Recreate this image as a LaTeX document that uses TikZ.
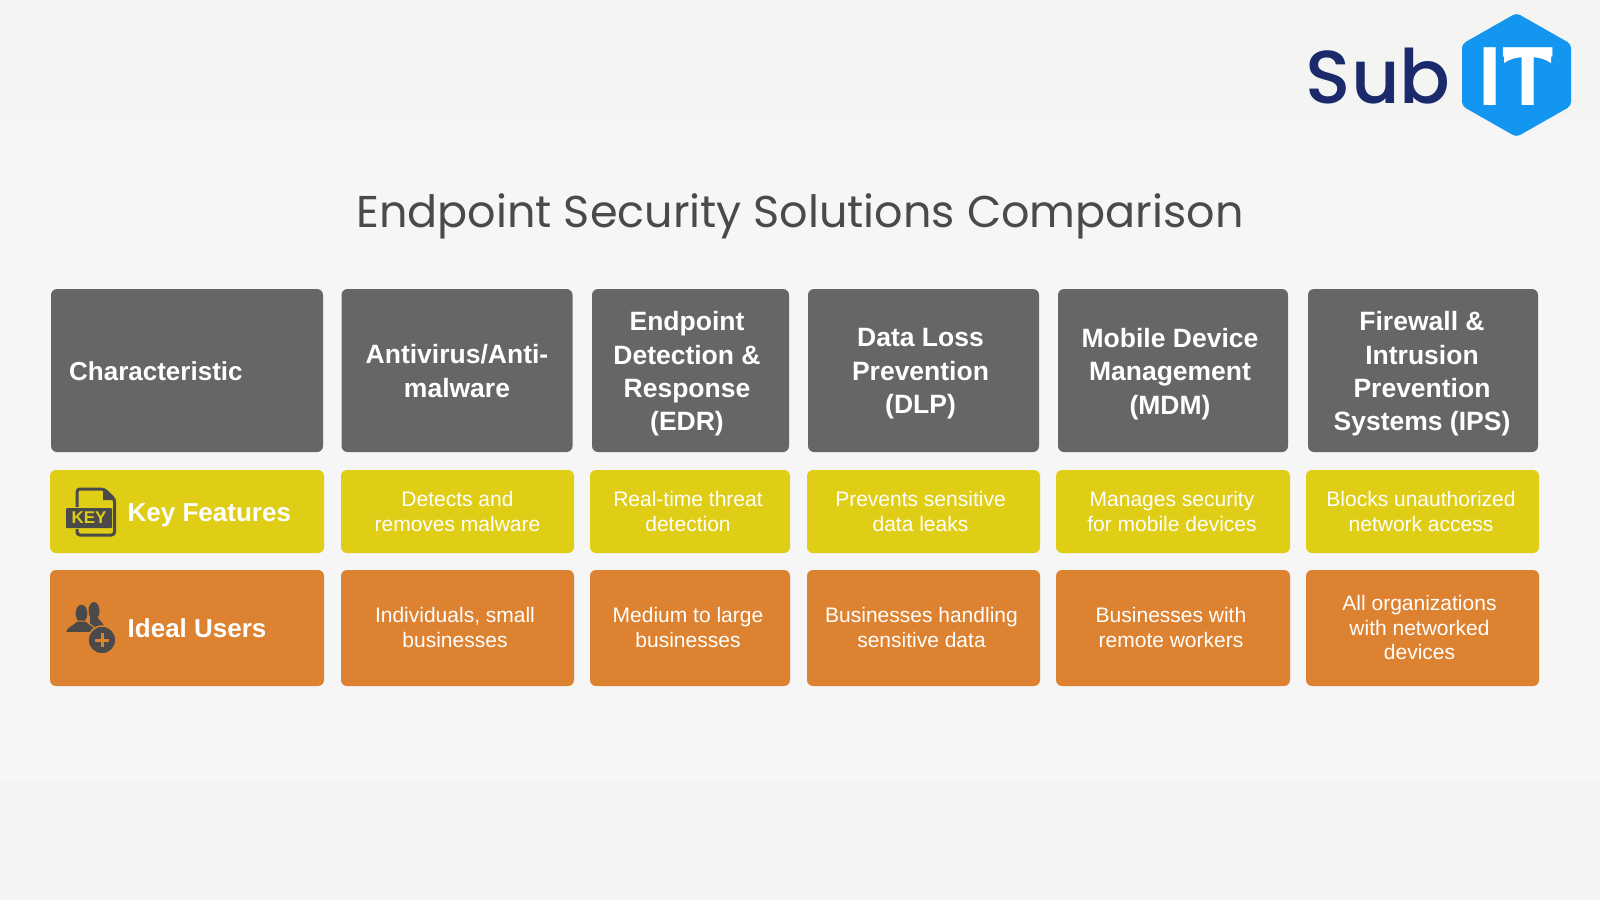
\documentclass[tikz,border=0pt]{standalone}
\usepackage{fontspec}
\setmainfont{Liberation Sans}
\newfontfamily\titlefont{Poppins}
\newfontfamily\logofont{Poppins Medium}
\definecolor{pagebg}{HTML}{F6F6F6}
\definecolor{bandbg}{HTML}{F4F4F2}
\definecolor{headgray}{HTML}{666666}
\definecolor{keyyellow}{HTML}{E0CD16}
\definecolor{userorange}{HTML}{DD8230}
\definecolor{icongray}{HTML}{4A4A4A}
\definecolor{logoblue}{HTML}{1296F0}
\definecolor{logonavy}{HTML}{1B2A6B}
\tikzset{
    cell/.style={rounded corners=6pt, inner sep=0pt},
    celltext/.style={align=center, text=white, inner sep=0pt},
    headtext/.style={celltext, font=\bfseries\fontsize{26.5}{33.4}\selectfont},
    smalltext/.style={celltext, font=\fontsize{21}{24.6}\selectfont},
    rowlabel/.style={anchor=west, text=white, inner sep=0pt, font=\bfseries\fontsize{26}{30}\selectfont},
    icon/.style={fill=icongray, draw=none}
}
\begin{document}
\begin{tikzpicture}[x=1pt,y=-1pt]
    \useasboundingbox (0,0) rectangle (1600,900);
    \fill[bandbg] (0,0) rectangle (1600,900);
    \fill[pagebg] (0,118) rectangle (1600,780);
    % logo
    \node[anchor=east, inner sep=0pt, text=logonavy, font=\logofont\fontsize{75}{75}\selectfont] (sub) at (1451,76) {Sub};
    \fill[logoblue, rounded corners=4pt] (1516.5,13) -- (1571,44) -- (1571,106) -- (1516.5,137) -- (1462,106) -- (1462,44) -- cycle;
    \node[text=white, inner sep=0pt, font=\bfseries\fontsize{84}{84}\selectfont] (logoit) at (1516,76.5) {IT};
    \fill[white] (1504,52) -- (1504,63) .. controls (1510,59) and (1516,57) .. (1527.5,57) .. controls (1539,57) and (1545,59) .. (1551,63) -- (1551,52) -- cycle;
    % title
    \node[text=icongray, inner sep=0pt, font=\titlefont\fontsize{44.5}{50}\selectfont] (title) at (800,216) {Endpoint Security Solutions Comparison};
    % header row
    \foreach \x/\w/\tx/\ty/\n/\l in {187/272/187/371/hchar/,457/231/457/371/hav/{Antivirus/Anti-\\malware},690.5/197/687/374/hedr/{Endpoint\\Detection \&\\Response\\(EDR)},923.5/231/920.5/374/hdlp/{Data Loss\\Prevention\\(DLP)},1173/230/1170/374/hmdm/{Mobile Device\\Management\\(MDM)},1423/230/1422/374/hips/{Firewall \&\\Intrusion\\Prevention\\Systems (IPS)}}{
        \node[cell, fill=headgray, minimum width=\w pt, minimum height=163pt] (\n) at (\x,370.5) {};
        \node[headtext] (\n text) at (\tx,\ty) {\l};
    }
    \node[rowlabel] (lchar) at (69,371) {Characteristic};
    % key features row
    \foreach \x/\w/\tx/\n/\l in {187/274/187/kchar/,457.5/233/457.5/kav/{Detects and\\removes malware},690/200/688/kedr/{Real-time threat\\detection},923.5/233/920.5/kdlp/{Prevents sensitive\\data leaks},1173/234/1172/kmdm/{Manages security\\for mobile devices},1422.5/233/1421/kips/{Blocks unauthorized\\network access}}{
        \node[cell, fill=keyyellow, minimum width=\w pt, minimum height=83pt] (\n) at (\x,511.5) {};
        \node[smalltext] (\n text) at (\tx,511.5) {\l};
    }
    % ideal users row
    \foreach \x/\w/\tx/\n/\l in {187/274/187/uchar/,457.5/233/455/uav/{Individuals, small\\businesses},690/200/688/uedr/{Medium to large\\businesses},923.5/233/921.5/udlp/{Businesses handling\\sensitive data},1173/234/1171/umdm/{Businesses with\\remote workers},1422.5/233/1419.5/uips/{All organizations\\with networked\\devices}}{
        \node[cell, fill=userorange, minimum width=\w pt, minimum height=116pt] (\n) at (\x,628) {};
        \node[smalltext] (\n text) at (\tx,627.5) {\l};
    }
    \node[rowlabel] (lkey) at (127.5,515) {Key Features};
    \node[rowlabel] (luser) at (127.5,628) {Ideal Users};
    % key file icon
    \draw[icongray, line width=3pt, rounded corners=3pt] (77,507) -- (77,489) -- (104,489) -- (114.5,499) -- (114.5,535) -- (77,535) -- (77,529);
    \fill[icongray] (103,488) -- (116,500) -- (103,500) -- cycle;
    \fill[icongray, rounded corners=1pt] (66,508) rectangle (112,528);
    \node[text=keyyellow, inner sep=0pt, font=\bfseries\fontsize{17}{17}\selectfont] (keytext) at (89,518) {KEY};
    % users icon
    \fill[icon] (94,611) ellipse (5.5pt and 9pt);
    \fill[icon] (90,618) -- (98,618) .. controls (99,621) and (102,621) .. (104,626) -- (100,634) -- (90,630) -- cycle;
    \fill[icon, draw=userorange, line width=1pt] (81.5,613.5) ellipse (6.5pt and 9.5pt);
    \fill[icon, draw=userorange, line width=1pt] (65.5,632.5) .. controls (66,626) and (74,625) .. (77,621) -- (86,621) .. controls (89,625) and (96,626) .. (97,632.5) -- cycle;
    \fill[icon, draw=userorange, line width=1.5pt] (102,640) circle (14pt);
    \draw[userorange, line width=3pt] (95,640) -- (109,640) (102,633) -- (102,647);
\end{tikzpicture}
\end{document}
